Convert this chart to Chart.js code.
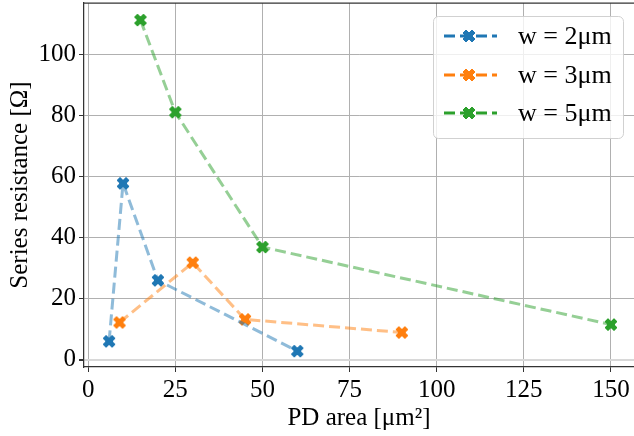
<!DOCTYPE html>
<html>
<head>
<meta charset="utf-8">
<script src="https://cdn.jsdelivr.net/npm/chart.js@4"></script>
<style>
  body { margin: 0; background: #fff; }
  #wrap { width: 634px; height: 436px; }
</style>
</head>
<body>
<div id="wrap"><canvas id="chart" width="634" height="436"></canvas></div>
<script>
// data
const seriesLabels = ['w = 2μm', 'w = 3μm', 'w = 5μm'];
const seriesColors = ['31, 119, 180', '255, 127, 14', '44, 160, 44'];

const areaW2 = [6, 10, 20, 60];
const resW2 = [6.0, 57.8, 26.0, 2.8];
const areaW3 = [9, 30, 45, 90];
const resW3 = [12.2, 31.8, 13.2, 8.9];
const areaW5 = [15, 25, 50, 150];
const resW5 = [111.3, 81.1, 36.9, 11.5];

const xTicks = [0, 25, 50, 75, 100, 125, 150];
const yTicks = [0, 20, 40, 60, 80, 100];

const FONT = "'Liberation Serif', 'DejaVu Serif', serif";
Chart.defaults.font.family = FONT;
Chart.defaults.color = '#000';

// filled "X" marker like matplotlib
function makeMarker(rgb) {
  const S = 12, pad = 1;
  const c = document.createElement('canvas');
  c.width = S + pad * 2; c.height = S + pad * 2;
  const g = c.getContext('2d');
  const v = [[0.25,0],[0.5,0.25],[0.75,0],[1,0.25],[0.75,0.5],[1,0.75],[0.75,1],[0.5,0.75],[0.25,1],[0,0.75],[0.25,0.5],[0,0.25]];
  g.beginPath();
  v.forEach((p, i) => {
    const x = pad + p[0] * S, y = pad + p[1] * S;
    if (i === 0) g.moveTo(x, y); else g.lineTo(x, y);
  });
  g.closePath();
  g.fillStyle = 'rgb(' + rgb + ')';
  g.strokeStyle = 'rgb(' + rgb + ')';
  g.lineWidth = 1;
  g.fill();
  g.stroke();
  return c;
}

function toPoints(xs, ys) {
  return xs.map((x, i) => ({ x: x, y: ys[i] }));
}

const allData = [toPoints(areaW2, resW2), toPoints(areaW3, resW3), toPoints(areaW5, resW5)];
const markers = seriesColors.map(makeMarker);

const datasets = allData.map((d, i) => ({
  label: seriesLabels[i],
  data: d,
  borderColor: 'rgba(' + seriesColors[i] + ', 0.5)',
  backgroundColor: 'rgb(' + seriesColors[i] + ')',
  borderWidth: 3,
  borderDash: [11, 5],
  pointStyle: markers[i],
  pointRadius: 6,
  pointHoverRadius: 6,
  tension: 0
}));

// legend box + top spine, drawn by hand
const extras = {
  id: 'extras',
  afterDraw(chart) {
    const ctx = chart.ctx;
    const area = chart.chartArea;
    ctx.save();
    // top spine
    ctx.strokeStyle = '#333';
    ctx.lineWidth = 1.25;
    ctx.beginPath();
    ctx.moveTo(area.left, area.top);
    ctx.lineTo(area.right, area.top);
    ctx.stroke();

    // legend
    const bx = 433.5, by = 16.5, bw = 190, bh = 122, r = 5;
    ctx.beginPath();
    ctx.roundRect(bx, by, bw, bh, r);
    ctx.fillStyle = 'rgba(255,255,255,0.8)';
    ctx.fill();
    ctx.strokeStyle = 'rgba(204,204,204,0.9)';
    ctx.lineWidth = 1;
    ctx.stroke();

    const rows = [36, 75, 113];
    chart.data.datasets.forEach((ds, i) => {
      const y = rows[i];
      ctx.strokeStyle = 'rgb(' + seriesColors[i] + ')';
      ctx.lineWidth = 3;
      ctx.setLineDash([11, 5]);
      ctx.beginPath();
      ctx.moveTo(444, y);
      ctx.lineTo(497, y);
      ctx.stroke();
      ctx.setLineDash([]);
      const m = markers[i];
      ctx.drawImage(m, 469 - m.width / 2, y - m.height / 2);
      ctx.fillStyle = '#000';
      ctx.font = '26px ' + FONT;
      ctx.textBaseline = 'middle';
      ctx.textAlign = 'left';
      ctx.fillText(ds.label, 518, y + 1);
    });
    ctx.restore();
  }
};

new Chart(document.getElementById('chart'), {
  type: 'line',
  data: { datasets: datasets },
  options: {
    responsive: false,
    animation: false,
    events: [],
    layout: { autoPadding: false, padding: { top: 3, right: 0, left: 0, bottom: 0 } },
    plugins: { legend: { display: false }, tooltip: { enabled: false } },
    scales: {
      x: {
        type: 'linear',
        min: -1.2,
        max: 156.6,
        afterBuildTicks: s => { s.ticks = xTicks.map(v => ({ value: v })); },
        afterFit: s => { s.height = 69; s.paddingLeft = 0; s.paddingRight = 0; },
        ticks: { font: { size: 25 }, padding: 3, maxRotation: 0 },
        grid: { color: '#b0b0b0', lineWidth: 1, tickColor: '#333', tickLength: 5 },
        border: { color: '#333', width: 1.25 },
        title: { display: true, text: 'PD area [μm²]', font: { size: 25 }, padding: { top: 0, bottom: 3 } }
      },
      y: {
        min: -2.4,
        max: 116.9,
        afterBuildTicks: s => { s.ticks = yTicks.map(v => ({ value: v })); },
        afterFit: s => { s.width = 84; s.paddingTop = 0; s.paddingBottom = 0; },
        ticks: { font: { size: 25 }, padding: 3 },
        grid: {
          color: c => (c.tick && c.tick.value === 0) ? '#d8d8d8' : '#b0b0b0',
          lineWidth: c => (c.tick && c.tick.value === 0) ? 2 : 1,
          tickColor: '#333',
          tickLength: 5
        },
        border: { color: '#333', width: 1.25 },
        title: { display: true, text: 'Series resistance [Ω]', font: { size: 25 }, padding: { top: 5, bottom: 0 } }
      }
    }
  },
  plugins: [extras]
});
</script>
</body>
</html>
